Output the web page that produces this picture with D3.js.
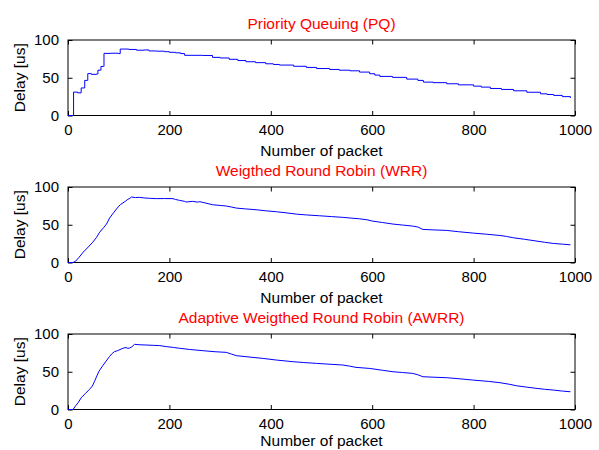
<!DOCTYPE html>
<html>
<head>
<meta charset="utf-8">
<script src="https://cdn.jsdelivr.net/npm/d3@7"></script>
<style>
  body { margin: 0; background: #fff; }
  svg { display: block; font-family: "Liberation Sans", Arial, sans-serif; }
  .tick text { font-size: 15px; fill: #000; }
</style>
</head>
<body>
<div id="chart"></div>
<script>
// values: [packet number, delay in us]
const titles = ['Priority Queuing (PQ)', 'Weigthed Round Robin (WRR)', 'Adaptive Weigthed Round Robin (AWRR)'];
const xTicks = [0, 200, 400, 600, 800, 1000];
const yTicks = [0, 50, 100];

const pqDelay = [[0,0],[11,31],[18,31],[19,30],[26,36.5],[32,36.5],[33,46.5],[38,46.5],[39,55.5],[45,55.5],[46,54.5],[56,55],
  [59,60],[64,60],[65,65],[70,65],[71,82.3],[85,82.5],[99,82],[103,88],[120,87.5],[135,86.5],[150,86.8],[160,85.5],
  [175,85.2],[190,84.5],[200,83.7],[212,83],[222,82],[230,79.7],[266,79.5],[285,77],[300,76.2],[318,74.4],[335,72.8],
  [351,71.2],[370,70],[390,68.5],[405,67.6],[417,66.8],[445,65.2],[470,63.7],[490,62.2],[516,61],[535,60],[556,59.2],
  [575,57.5],[595,55.3],[605,53.5],[615,51.8],[640,50.5],[668,48.2],[690,46.5],[701,44.2],[720,43.5],[747,42],
  [770,40.6],[800,38.9],[815,37.6],[833,35.8],[855,34.5],[879,32.7],[905,30.8],[932,28.7],[945,27.8],[958,26.6],
  [975,25],[991,23.4]];

const wrrDelay = [[0,0],[10,0],[15,1.7],[22,7],[30,13.7],[40,20.5],[49,27],[56,33],[62.5,40.2],[70,46],[76,51],[82,58.8],
  [90,66],[98.6,73.4],[104,77],[108.5,79],[113,81],[118,83.7],[122,85],[125,86.7],[133,86],[141,86.3],[150,85.5],
  [161,85],[175,84.6],[190,84.7],[207,84.6],[212,83.5],[220,82.3],[230,81],[233,80.1],[246,81],[255,80],[260,80.5],
  [270,79],[285,76.5],[300,75.6],[312,74.8],[322,73.5],[332,72.1],[350,71],[371,69.9],[390,68.5],[411,67.2],
  [430,65.8],[450,64.1],[470,63],[496,61.9],[520,60.8],[542,59.8],[560,58.7],[575,57.9],[590,56.5],[601,54.8],
  [620,53],[641,50.9],[660,49.6],[680,48.2],[690,47],[700,43.8],[720,43.2],[747,42.5],[770,40.8],[800,38.9],
  [825,37.5],[852,35.8],[865,34.5],[879,32.7],[900,30.8],[925,28.3],[940,26.8],[958,25.2],[975,24.3],[991,23.4]];

const awrrDelay = [[0,0],[10,0],[15,4.9],[20,9],[26,15.5],[34,21],[42.3,26.6],[48,31],[52,36.8],[56,43],[60.6,50],
  [64,53.5],[68.5,58],[74,63],[81.7,70],[86,73.5],[91.5,76.6],[98,78],[104.6,80],[110,81.5],[114.5,82],[118,81],
  [121,81.3],[126,83],[131,86.3],[140,85.8],[154,85.4],[168,85],[181,84.6],[194,83.3],[208,82.2],[220,81.1],
  [240,79.5],[266,77.9],[290,76.5],[312,75.7],[322,73.5],[332,71.3],[355,69.7],[384,67.7],[411,65.5],[444,63.3],
  [465,62.2],[490,61.1],[515,60],[542,58.9],[555,57.5],[568,55.8],[595,54.4],[620,52],[641,50],[660,49],
  [680,47.8],[690,46],[700,43.4],[720,42.8],[747,42.1],[775,40.5],[800,38.9],[830,37.2],[852,35.5],[870,33.5],
  [885,31.4],[905,29.6],[925,27.9],[940,26.8],[958,25.7],[975,24.4],[991,23.5]];

const W = 599, H = 450;
const left = 68, right = 575, ph = 75.5;
const tops = [40, 187, 334];
const series = [pqDelay, wrrDelay, awrrDelay];
const curves = [d3.curveStepAfter, d3.curveLinear, d3.curveLinear];

const svg = d3.select('#chart').append('svg')
    .attr('width', W)
    .attr('height', H);

const x = d3.scaleLinear().domain([0, 1000]).range([left, right]);

series.forEach((data, i) => {
    const top = tops[i], bottom = top + ph;
    const y = d3.scaleLinear().domain([0, 100]).range([bottom, top]);
    const g = svg.append('g');

    // bottom axis with labels, ticks pointing in
    g.append('g')
        .attr('transform', `translate(0,${bottom})`)
        .call(d3.axisBottom(x).tickValues(xTicks).tickFormat(d3.format('d'))
            .tickSizeInner(-4.5).tickSizeOuter(0).tickPadding(9))
        .call(a => a.select('.domain').remove());
    g.append('g')
        .attr('transform', `translate(0,${top})`)
        .call(d3.axisTop(x).tickValues(xTicks).tickSizeInner(-4.5).tickSizeOuter(0).tickFormat(''))
        .call(a => a.select('.domain').remove());
    g.append('g')
        .attr('transform', `translate(${left},0)`)
        .call(d3.axisLeft(y).tickValues(yTicks).tickSizeInner(-4.5).tickSizeOuter(0).tickPadding(9))
        .call(a => a.select('.domain').remove());
    g.append('g')
        .attr('transform', `translate(${right},0)`)
        .call(d3.axisRight(y).tickValues(yTicks).tickSizeInner(-4.5).tickSizeOuter(0).tickFormat(''))
        .call(a => a.select('.domain').remove());

    g.append('rect')
        .attr('x', left).attr('y', top)
        .attr('width', right - left).attr('height', ph)
        .attr('fill', 'none').attr('stroke', '#000').attr('stroke-width', 1);

    const line = d3.line()
        .x(d => x(d[0]))
        .y(d => y(d[1]))
        .curve(curves[i]);

    g.append('path')
        .datum(data)
        .attr('d', line)
        .attr('fill', 'none')
        .attr('stroke', '#0000ff')
        .attr('stroke-width', 1);

    g.append('text')
        .attr('x', (left + right) / 2)
        .attr('y', top - 11)
        .attr('text-anchor', 'middle')
        .attr('fill', '#ff0000')
        .style('font-size', '15.5px')
        .text(titles[i]);

    // last label sits right at the bottom edge, keep it inside
    g.append('text')
        .attr('x', (left + right) / 2)
        .attr('y', Math.min(bottom + 40, H - 4))
        .attr('text-anchor', 'middle')
        .attr('fill', '#000')
        .style('font-size', '15.5px')
        .text('Number of packet');

    g.append('text')
        .attr('transform', `translate(25,${(top + bottom) / 2}) rotate(-90)`)
        .attr('text-anchor', 'middle')
        .attr('fill', '#000')
        .style('font-size', '15.5px')
        .text('Delay [us]');
});
</script>
</body>
</html>
